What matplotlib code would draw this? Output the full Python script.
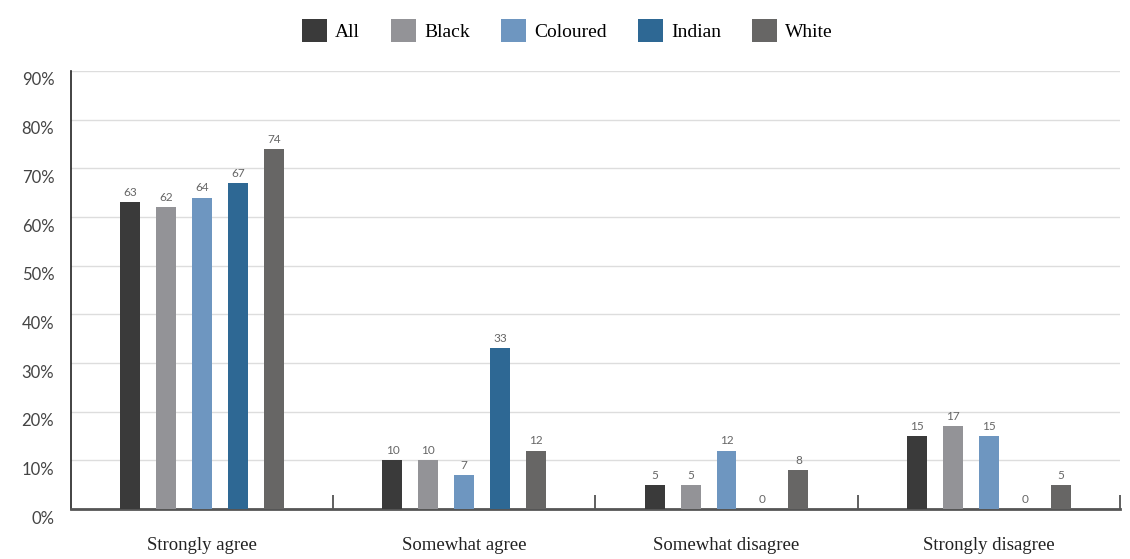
import numpy as np
import matplotlib.pyplot as plt
import matplotlib.transforms as mtransforms

categories = ['Strongly agree', 'Somewhat agree', 'Somewhat disagree', 'Strongly disagree']
groups = ['All', 'Black', 'Coloured', 'Indian', 'White']
values = {
    'All': [63, 10, 5, 15],
    'Black': [62, 10, 5, 17],
    'Coloured': [64, 7, 12, 15],
    'Indian': [67, 33, 0, 0],
    'White': [74, 12, 8, 5],
}
colors = ['#3a3a3a', '#939397', '#6e96c0', '#2e6894', '#676665']
yticks = [0, 10, 20, 30, 40, 50, 60, 70, 80, 90]

fig = plt.figure(figsize=(11.3, 5.59), dpi=100)
ax = fig.add_axes([0.0628, 0.0894, 0.9282, 0.7836])

x = np.arange(len(categories))
step = 0.137
width = 0.076
for i, (g, c) in enumerate(zip(groups, colors)):
    pos = x + (i - 2) * step
    bars = ax.bar(pos, values[g], width=width, color=c, label=g, zorder=3)
    ax.bar_label(bars, padding=3, fontsize=8.5, color='#666666', family='Lato')

ax.set_xlim(-0.5, 3.5)
ax.set_ylim(0, 90)
ax.set_yticks(yticks)
ax.set_yticklabels([f'{v}%' for v in yticks], family='Lato', fontsize=12, color='#444444')
ax.yaxis.grid(True, color='#dddddd', linewidth=1, zorder=0)
ax.tick_params(axis='y', length=0, pad=12)
# shift y labels down a bit like the reference
offset = mtransforms.ScaledTranslation(0, -8 / 100, fig.dpi_scale_trans)
for lab in ax.get_yticklabels():
    lab.set_transform(lab.get_transform() + offset)

ax.set_xticks(x)
ax.set_xticklabels(categories, family='Liberation Serif', fontsize=13.5, color='#222222')
ax.tick_params(axis='x', which='major', length=0, pad=20)
ax.set_xticks([0.5, 1.5, 2.5, 3.5], minor=True)
ax.tick_params(axis='x', which='minor', direction='in', length=10, width=1.2, color='#444444')

for s in ['top', 'right']:
    ax.spines[s].set_visible(False)
ax.spines['left'].set_color('#222222')
ax.spines['left'].set_linewidth(1.2)
ax.spines['bottom'].set_color('#555555')
ax.spines['bottom'].set_linewidth(2)

fig.legend(loc='upper center', bbox_to_anchor=(0.502, 0.997), ncol=5, frameon=False,
           prop={'family': 'Liberation Serif', 'size': 14},
           handlelength=1.3, handleheight=1.4, handletextpad=0.4, columnspacing=1.6)

fig.savefig('out.png', dpi=100)
